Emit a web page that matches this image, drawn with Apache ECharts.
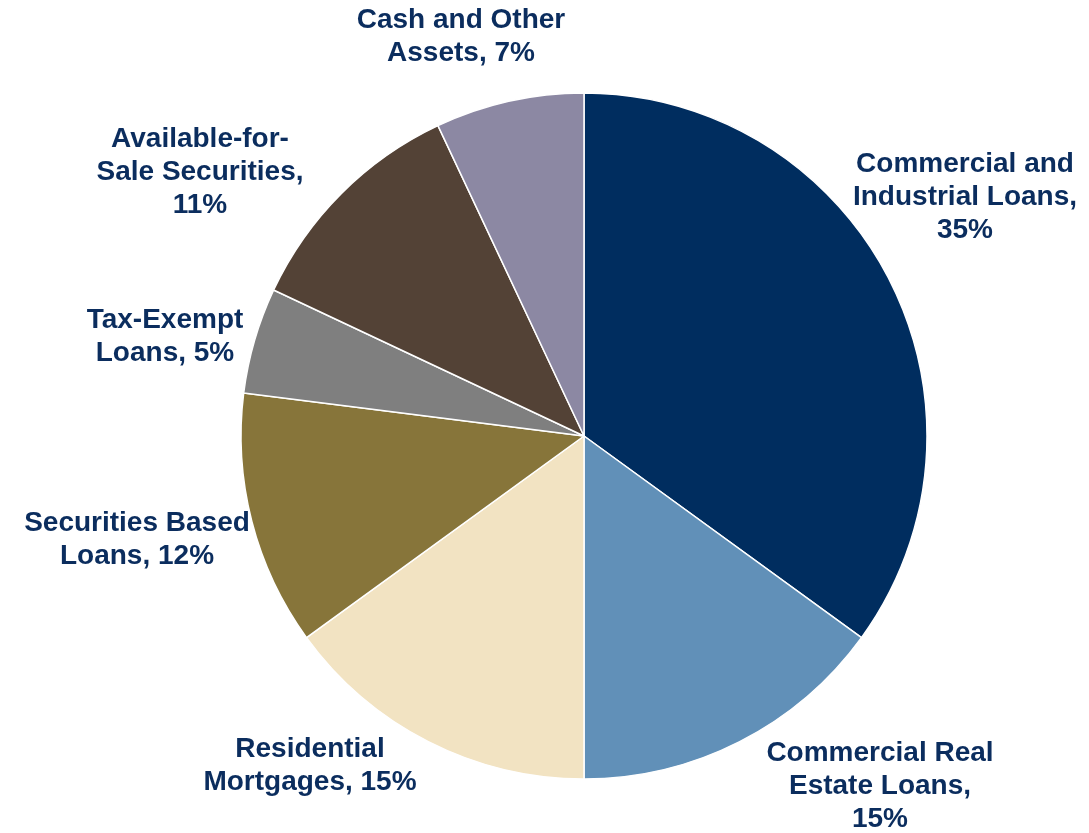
<!DOCTYPE html>
<html>
<head>
<meta charset="utf-8">
<script src="https://cdn.jsdelivr.net/npm/echarts@6/dist/echarts.min.js"></script>
<style>
  html, body { margin: 0; padding: 0; background: #ffffff; }
  #chart { width: 1089px; height: 833px; }
</style>
</head>
<body>
<div id="chart"></div>
<script>
// Portfolio mix, clockwise from 12 o'clock
const categories = [
  'Commercial and\nIndustrial Loans',
  'Commercial Real\nEstate Loans',
  'Residential\nMortgages',
  'Securities Based\nLoans',
  'Tax-Exempt\nLoans',
  'Available-for-\nSale Securities',
  'Cash and Other\nAssets'
];
const shares = [35, 15, 15, 12, 5, 11, 7];
// whether the percentage sits on its own line under the name
const valueOwnLine = [true, true, false, false, false, true, false];

const colors = ['#002d5f', '#6190b8', '#f2e3c2', '#87753a', '#7f7f7f', '#534236', '#8c88a3'];
// label block centres (px)
const labelPos = [
  [965, 197], [880, 786], [310, 766], [137, 540], [165, 337], [200, 172], [461, 37]
];

const chart = echarts.init(document.getElementById('chart'), null, { renderer: 'canvas' });

chart.setOption({
  animation: false,
  series: [{
    type: 'pie',
    center: [584, 436],
    radius: 343,
    startAngle: 90,
    clockwise: true,
    avoidLabelOverlap: false,
    itemStyle: { borderColor: '#ffffff', borderWidth: 1.5 },
    labelLine: { show: false },
    label: {
      show: true,
      position: 'outside',
      color: '#0b2d5e',
      fontFamily: '"Liberation Sans", Arial, sans-serif',
      fontWeight: 'bold',
      fontSize: 28,
      lineHeight: 33,
      align: 'center',
      formatter: p => p.name + (valueOwnLine[p.dataIndex] ? ',\n' : ', ') + p.value + '%'
    },
    labelLayout: p => ({
      x: labelPos[p.dataIndex][0],
      y: labelPos[p.dataIndex][1],
      align: 'center',
      verticalAlign: 'middle'
    }),
    emphasis: { disabled: true },
    data: categories.map((c, i) => ({
      name: c,
      value: shares[i],
      itemStyle: { color: colors[i] }
    }))
  }]
});
</script>
</body>
</html>
